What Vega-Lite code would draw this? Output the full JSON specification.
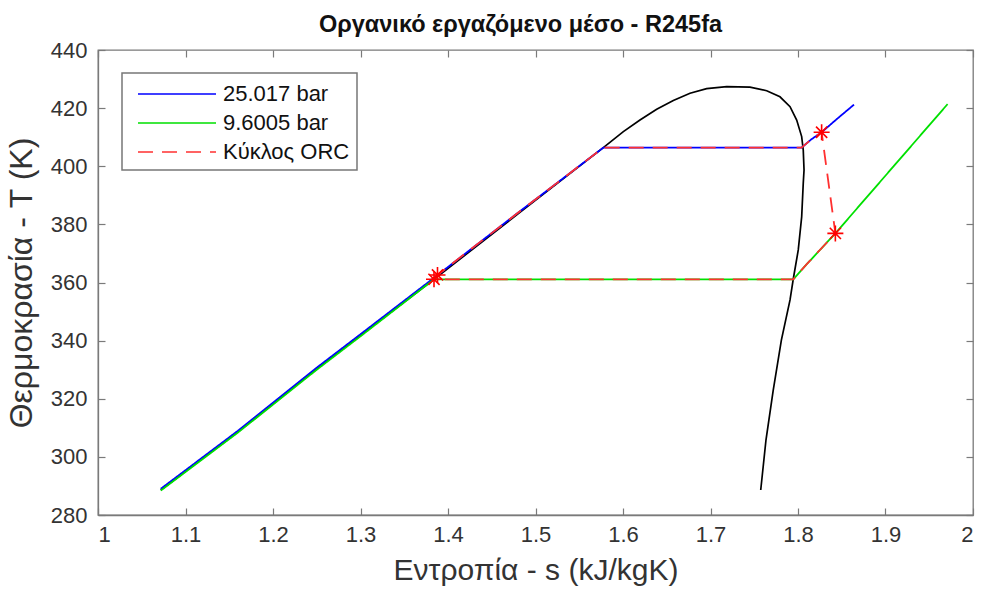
{
  "$schema": "https://vega.github.io/schema/vega-lite/v6.json",
  "autosize": {"type": "none"},
  "width": 875,
  "height": 465,
  "padding": {"left": 98, "top": 50, "right": 11, "bottom": 74},
  "background": "white",
  "title": {
    "text": "Οργανικό εργαζόμενο μέσο - R245fa",
    "font": "Liberation Sans",
    "fontSize": 23.5,
    "fontWeight": "bold",
    "color": "#111111",
    "frame": "group",
    "anchor": "middle",
    "dx": -15,
    "offset": 3
  },
  "datasets": {
    "dome": [
      {"s": 1.0717, "T": 288.6, "i": 1},
      {"s": 1.16, "T": 308.6, "i": 2},
      {"s": 1.25, "T": 330.3, "i": 3},
      {"s": 1.3, "T": 341.8, "i": 4},
      {"s": 1.384, "T": 361.1, "i": 5},
      {"s": 1.48, "T": 383.6, "i": 6},
      {"s": 1.5775, "T": 406.4, "i": 7},
      {"s": 1.6004, "T": 411.9, "i": 8},
      {"s": 1.6194, "T": 415.9, "i": 9},
      {"s": 1.6385, "T": 419.6, "i": 10},
      {"s": 1.6575, "T": 422.6, "i": 11},
      {"s": 1.6766, "T": 425.1, "i": 12},
      {"s": 1.6956, "T": 426.7, "i": 13},
      {"s": 1.7185, "T": 427.4, "i": 14},
      {"s": 1.7451, "T": 427.2, "i": 15},
      {"s": 1.7642, "T": 426.0, "i": 16},
      {"s": 1.7794, "T": 423.9, "i": 17},
      {"s": 1.7909, "T": 420.5, "i": 18},
      {"s": 1.7985, "T": 415.9, "i": 19},
      {"s": 1.8042, "T": 410.2, "i": 20},
      {"s": 1.806, "T": 405.6, "i": 21},
      {"s": 1.8069, "T": 398.7, "i": 22},
      {"s": 1.806, "T": 394.1, "i": 23},
      {"s": 1.8042, "T": 382.6, "i": 24},
      {"s": 1.8003, "T": 371.2, "i": 25},
      {"s": 1.7946, "T": 361.2, "i": 26},
      {"s": 1.7909, "T": 354.0, "i": 27},
      {"s": 1.781, "T": 340.2, "i": 28},
      {"s": 1.7717, "T": 323.0, "i": 29},
      {"s": 1.7634, "T": 305.8, "i": 30},
      {"s": 1.7574, "T": 288.6, "i": 31}
    ],
    "cycle": [
      {"c": "25.017 bar", "s": 1.0717, "T": 289.0, "i": 1},
      {"c": "25.017 bar", "s": 1.16, "T": 309.0, "i": 2},
      {"c": "25.017 bar", "s": 1.25, "T": 330.7, "i": 3},
      {"c": "25.017 bar", "s": 1.3, "T": 342.2, "i": 4},
      {"c": "25.017 bar", "s": 1.384, "T": 361.6, "i": 5},
      {"c": "25.017 bar", "s": 1.48, "T": 384.0, "i": 6},
      {"c": "25.017 bar", "s": 1.5775, "T": 406.4, "i": 7},
      {"c": "25.017 bar", "s": 1.804, "T": 406.4, "i": 8},
      {"c": "25.017 bar", "s": 1.815, "T": 409.2, "i": 9},
      {"c": "25.017 bar", "s": 1.827, "T": 411.7, "i": 10},
      {"c": "25.017 bar", "s": 1.845, "T": 416.4, "i": 11},
      {"c": "25.017 bar", "s": 1.864, "T": 421.2, "i": 12},
      {"c": "9.6005 bar", "s": 1.0717, "T": 288.4, "i": 1},
      {"c": "9.6005 bar", "s": 1.16, "T": 308.4, "i": 2},
      {"c": "9.6005 bar", "s": 1.25, "T": 330.0, "i": 3},
      {"c": "9.6005 bar", "s": 1.3, "T": 341.5, "i": 4},
      {"c": "9.6005 bar", "s": 1.384, "T": 361.1, "i": 5},
      {"c": "9.6005 bar", "s": 1.7946, "T": 361.1, "i": 6},
      {"c": "9.6005 bar", "s": 1.81, "T": 366.3, "i": 7},
      {"c": "9.6005 bar", "s": 1.8427, "T": 376.9, "i": 8},
      {"c": "9.6005 bar", "s": 1.909, "T": 399.9, "i": 9},
      {"c": "9.6005 bar", "s": 1.971, "T": 421.4, "i": 10},
      {"c": "Κύκλος ORC", "s": 1.384, "T": 361.1, "i": 1},
      {"c": "Κύκλος ORC", "s": 1.388, "T": 362.6, "i": 2},
      {"c": "Κύκλος ORC", "s": 1.48, "T": 384.0, "i": 3},
      {"c": "Κύκλος ORC", "s": 1.5775, "T": 406.4, "i": 4},
      {"c": "Κύκλος ORC", "s": 1.804, "T": 406.4, "i": 5},
      {"c": "Κύκλος ORC", "s": 1.815, "T": 409.2, "i": 6},
      {"c": "Κύκλος ORC", "s": 1.827, "T": 411.7, "i": 7},
      {"c": "Κύκλος ORC", "s": 1.8427, "T": 376.9, "i": 8},
      {"c": "Κύκλος ORC", "s": 1.81, "T": 366.3, "i": 9},
      {"c": "Κύκλος ORC", "s": 1.7946, "T": 361.1, "i": 10},
      {"c": "Κύκλος ORC", "s": 1.384, "T": 361.1, "i": 11}
    ],
    "states": [
      {"s": 1.384, "T": 361.1},
      {"s": 1.388, "T": 362.6},
      {"s": 1.827, "T": 411.7},
      {"s": 1.8427, "T": 376.9}
    ]
  },
  "layer": [
    {
      "data": {"name": "dome"},
      "mark": {"type": "line", "color": "#000000", "strokeWidth": 1.7},
      "encoding": {
        "x": {"field": "s", "type": "quantitative",
              "scale": {"domain": [1, 2], "nice": false, "zero": false},
              "axis": {"orient": "top", "labels": false, "title": null, "domain": false,
                       "values": [1, 1.1, 1.2, 1.3, 1.4, 1.5, 1.6, 1.7, 1.8, 1.9, 2]}},
        "y": {"field": "T", "type": "quantitative",
              "scale": {"domain": [280, 440], "nice": false, "zero": false},
              "axis": {"orient": "right", "labels": false, "title": null, "domain": false,
                       "values": [280, 300, 320, 340, 360, 380, 400, 420, 440]}},
        "order": {"field": "i", "type": "quantitative"}
      }
    },
    {
      "data": {"name": "cycle"},
      "mark": {"type": "line", "strokeWidth": 1.8},
      "encoding": {
        "x": {"field": "s", "type": "quantitative",
              "axis": {"orient": "bottom", "title": "Εντροπία - s (kJ/kgK)", "format": "~g",
                       "values": [1, 1.1, 1.2, 1.3, 1.4, 1.5, 1.6, 1.7, 1.8, 1.9, 2]}},
        "y": {"field": "T", "type": "quantitative",
              "axis": {"orient": "left", "title": "Θερμοκρασία - T (K)",
                       "values": [280, 300, 320, 340, 360, 380, 400, 420, 440]}},
        "order": {"field": "i", "type": "quantitative"},
        "color": {"field": "c", "type": "nominal",
                  "scale": {"domain": ["25.017 bar", "9.6005 bar", "Κύκλος ORC"],
                            "range": ["#0000ff", "#00e000", "#ff3030"]},
                  "legend": {"title": null}},
        "strokeDash": {"field": "c", "type": "nominal",
                       "scale": {"domain": ["25.017 bar", "9.6005 bar", "Κύκλος ORC"],
                                 "range": [[1, 0], [1, 0], [15, 9]]},
                       "legend": {"title": null}}
      }
    },
    {
      "data": {"name": "states"},
      "mark": {"type": "point", "shape": "M-1,0L1,0M0,-1L0,1M-0.7,-0.7L0.7,0.7M-0.7,0.7L0.7,-0.7",
               "filled": false, "color": "#ff0000", "strokeWidth": 1.6, "size": 256, "opacity": 1},
      "encoding": {
        "x": {"field": "s", "type": "quantitative", "axis": null},
        "y": {"field": "T", "type": "quantitative", "axis": null}
      }
    }
  ],
  "resolve": {"axis": {"x": "independent", "y": "independent"}},
  "config": {
    "view": {"stroke": "#7a7a7a", "strokeWidth": 1.3},
    "axis": {
      "grid": false,
      "domainColor": "#7a7a7a",
      "domainWidth": 1.3,
      "tickColor": "#7a7a7a",
      "tickWidth": 1.2,
      "tickSize": -7,
      "labelPadding": 14,
      "labelFont": "Liberation Sans",
      "labelFontSize": 22,
      "labelColor": "#333333",
      "titleFont": "Liberation Sans",
      "titleFontSize": 30,
      "titleFontWeight": "normal",
      "titleColor": "#333333"
    },
    "axisBottom": {"titlePadding": 10, "labelPadding": 16},
    "axisLeft": {"titlePadding": 12, "labelPadding": 18, "titleFontSize": 32},
    "legend": {
      "orient": "none",
      "legendX": 24,
      "legendY": 23,
      "strokeColor": "#777777",
      "strokeWidth": 1.5,
      "fillColor": "white",
      "padding": 7,
      "symbolType": "M-3,0L3,0",
      "symbolSize": 676,
      "symbolStrokeWidth": 1.7,
      "symbolOffset": 34,
      "labelOffset": 32,
      "rowPadding": 4,
      "labelFont": "Liberation Sans",
      "labelFontSize": 22,
      "labelColor": "#111111"
    }
  }
}
